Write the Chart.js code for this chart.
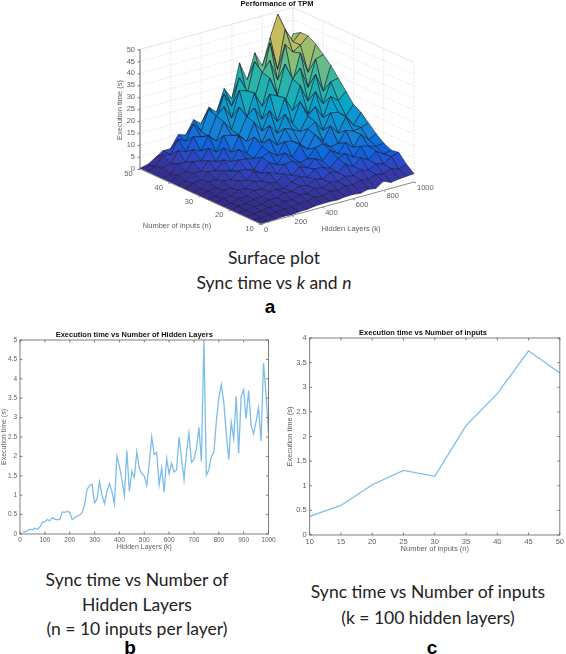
<!DOCTYPE html>
<html>
<head>
<meta charset="utf-8">
<title>Performance of TPM</title>
<script src="https://cdn.jsdelivr.net/npm/chart.js"></script>
<style>
    html, body { margin: 0; padding: 0; background: #fff; }
    #page { position: relative; width: 566px; height: 654px; overflow: hidden; }
    canvas { position: absolute; filter: blur(0.35px); }
    .cap { position: absolute; transform: translate(-50%, -50%); white-space: nowrap; color: #222;
           font-family: Lato, sans-serif; font-size: 17.5px; line-height: 1; }
    .tag { position: absolute; transform: translate(-50%, -50%); color: #000;
           font-family: "Liberation Sans", sans-serif; font-weight: bold; font-size: 19px; line-height: 1; }
</style>
</head>
<body>
<div id="page">
    <canvas id="surface" width="380" height="240" style="left:80px;top:0"></canvas>
    <canvas id="layers" width="280" height="235" style="left:0;top:325px"></canvas>
    <canvas id="inputs" width="281" height="235" style="left:285px;top:325px"></canvas>

    <div class="cap" style="left:274px;top:258px">Surface plot</div>
    <div class="cap" style="left:274px;top:283px">Sync time vs <i>k</i> and <i>n</i></div>
    <div class="tag" style="left:270px;top:306px">a</div>

    <div class="cap" style="left:137px;top:580px">Sync time vs Number of</div>
    <div class="cap" style="left:137px;top:605px">Hidden Layers</div>
    <div class="cap" style="left:137px;top:629px">(n = 10 inputs per layer)</div>
    <div class="tag" style="left:130px;top:647px">b</div>

    <div class="cap" style="left:428px;top:592px">Sync time vs Number of inputs</div>
    <div class="cap" style="left:428px;top:618px">(k = 100 hidden layers)</div>
    <div class="tag" style="left:432px;top:647px">c</div>
</div>

<script>
// Data
const hiddenLayerGrid = [0, 50, 100, 150, 200, 250, 300, 350, 400, 450, 500, 550, 600, 650, 700, 750, 800, 850, 900, 950, 1000];
const inputGrid = [10, 12.5, 15, 17.5, 20, 22.5, 25, 27.5, 30, 32.5, 35, 37.5, 40, 42.5, 45, 47.5, 50];

// one row per entry of inputGrid, one column per entry of hiddenLayerGrid
const surfaceTimes = [
    [.05, .1, .3, .57, .37, .75, .8, 1.3, 1.4, 1.5, 1.25, 1.7, 1.82, 1.4, 2.2, 1.65, 3.85, 2.45, 2.97, 3.25, 3.5],
    [.05, .2, .7, .8, 1.3, 1.2, 2, 1.9, 2.7, 2.3, 3.4, 2.9, 3.9, 3.5, 4.6, 4.1, 5.2, 4.6, 5.9, 4.8, 6],
    [.05, .4, .7, 1.3, 1.4, 2.2, 2.1, 3.2, 2.8, 4, 3.4, 4.8, 4.3, 5.6, 5, 6.6, 5.6, 7.4, 6.4, 8.6, 9.5],
    [.06, .4, 1.1, 1.3, 2.2, 2.2, 3.4, 3, 4.6, 3.9, 5.8, 4.8, 6.8, 5.8, 8.4, 6.6, 9.4, 7.6, 10.4, 8.2, 9],
    [.08, .7, 1, 2, 2.1, 3.4, 3.4, 3, 4.8, 6.2, 4.9, 7.6, 7.4, 6.2, 9.4, 10.4, 8.2, 11.8, 11, 10, 10.5],
    [.1, .6, 1.6, 1.8, 3.2, 3, 4.8, 4, 6.6, 5.2, 8, 6.6, 9.6, 7.8, 11.4, 9, 12.8, 10, 14.4, 11.4, 13],
    [.1, 1, 1.3, 2.9, 2.7, 4.8, 3.9, 6.6, 5.4, 8.4, 8.8, 7.4, 8, 11.8, 12.6, 10.4, 11, 15.6, 14.4, 15, 16],
    [.1, .7, 2.2, 2.3, 4.4, 3.8, 6.6, 5, 8.6, 6.8, 10.8, 8.2, 12.6, 9.8, 15, 11.4, 16.8, 13, 18.8, 14.6, 19],
    [.15, 1.3, 1.7, 3.8, 3.4, 6.4, 6, 5, 9.4, 10.8, 8.2, 13.2, 12.6, 10.6, 16, 18, 13.6, 20, 19.4, 17, 21],
    [.15, .9, 3, 2.9, 5.8, 4.8, 8.6, 8.2, 7.4, 11.6, 13.8, 10.4, 16.4, 15.2, 13.4, 19, 22, 16.6, 24.6, 22, 25],
    [.2, 1.7, 2.2, 4.8, 4.4, 8, 6.4, 10.6, 8.2, 14, 10.6, 17, 13, 20, 15.4, 23.6, 17.6, 26, 20, 28.4, 29],
    [.2, 1.2, 3.8, 3.6, 7.2, 5.8, 10.6, 8, 14, 10.8, 17.8, 13.4, 21, 15.6, 24.6, 18.4, 28, 20.6, 31, 23, 33],
    [.2, 2.2, 2.8, 6.2, 5.6, 10, 7.6, 13.6, 12.8, 12, 19, 21.6, 16, 25.6, 24, 20.5, 29.4, 33, 24, 35, 36],
    [.2, 1.4, 4.8, 4.4, 8.8, 7.4, 13, 9.8, 17, 12.8, 21.4, 16, 25.6, 19, 30, 22, 34, 26, 37, 28, 39],
    [.3, 2.6, 3.2, 7.8, 6.6, 12, 11, 10.4, 18, 21, 15.4, 26, 25, 21, 31, 35, 26, 40, 36, 38, 41],
    [.3, 1.6, 5.6, 4.8, 10.4, 8.6, 15, 11, 19.4, 14.6, 24, 18, 29, 21, 34, 25, 40, 28, 44, 38, 41],
    [.3, 1, 3, 5, 5, 10, 9, 14.5, 12, 18, 15, 24, 19, 33, 25, 35.5, 29, 40, 49, 30, 39]
];

const layerCounts = [10, 20, 30, 40, 50, 60, 70, 80, 90, 100, 110, 120, 130, 140, 150, 160, 170, 180, 190, 200,
    210, 220, 230, 240, 250, 260, 270, 280, 290, 300, 310, 320, 330, 340, 350, 360, 370, 380, 390, 400,
    410, 420, 430, 440, 450, 460, 470, 480, 490, 500, 510, 520, 530, 540, 550, 560, 570, 580, 590, 600,
    610, 620, 630, 640, 650, 660, 670, 680, 690, 700, 710, 720, 730, 740, 750, 760, 770, 780, 790, 800,
    810, 820, 830, 840, 850, 860, 870, 880, 890, 900, 910, 920, 930, 940, 950, 960, 970, 980, 990, 1000];
const layerTimes = [.06, .05, .09, .12, .11, .15, .12, .18, .3, .31, .37, .34, .42, .38, .37, .37, .57, .56, .58, .56,
    .37, .42, .46, .49, .55, .75, 1.15, 1.25, 1.28, .8, .9, 1.35, 1, .78, 1.1, 1.3, 1.1, .78, 2, 1.75,
    1.4, .98, 2.15, 1.1, 1.62, 1.45, 2.12, 1.7, 1.55, 1.5, 1.25, 1.8, 2.5, 2.05, 2.1, 1.27, 1.7, 1.08, 1.95, 1.55,
    1.82, 1.6, 1.65, 2.5, 1.95, 1.4, 2.1, 2.6, 1.85, 1.92, 2.2, 2.75, 1.87, 5, 1.52, 1.65, 2, 2.1, 2.9, 3.5,
    3.85, 3.4, 2.6, 1.92, 2.88, 2.45, 3.55, 2.08, 3.55, 3.72, 2.97, 3.7, 2.8, 2.58, 2.9, 3.25, 2.4, 4.4, 3.6, 2.6];

const inputCounts = [10, 15, 20, 25, 30, 35, 40, 45, 50];
const inputTimes = [.38, .6, 1.02, 1.31, 1.19, 2.22, 2.87, 3.74, 3.29];

const hiddenTicks = [0, 200, 400, 600, 800, 1000];
const inputTicks = [10, 20, 30, 40, 50];
const timeTicks = [0, 5, 10, 15, 20, 25, 30, 35, 40, 45, 50];

Chart.defaults.font.family = '"Liberation Sans", Arial, sans-serif';
Chart.defaults.animation = false;
Chart.defaults.responsive = false;
Chart.defaults.events = [];

const AXIS_GRAY = '#606060';
const LINE_BLUE = '#7dbde9';

// parula colour map as the picture shows it: position, then r, g, b
const parula = [[0, 53, 42, 135], [.07, 55, 55, 165], [.12, 45, 70, 200], [.18, 15, 100, 225], [.25, 20, 129, 214],
    [.375, 6, 164, 202], [.5, 46, 183, 164], [.625, 135, 191, 119], [.75, 209, 187, 89], [.875, 254, 200, 50], [1, 249, 251, 14]];
function parulaColor(t) {
    const v = Math.min(Math.max(t, 0), 1);
    let i = 0;
    while (i < parula.length - 2 && v > parula[i + 1][0]) i++;
    const a = parula[i], b = parula[i + 1];
    const f = (v - a[0]) / (b[0] - a[0]);
    const mix = j => Math.round(a[j] + (b[j] - a[j]) * f);
    return `rgb(${mix(1)},${mix(2)},${mix(3)})`;
}

// the 3D box drawn on flat, hidden scales
function project(k, n, z) {
    const a = k / 1000, b = (n - 10) / 40;
    return { x: 181 + a * 153 - b * 121, y: 224 - a * 42 - b * 55 - z * 2.39 };
}

function segment(p, q, color, width, dash) {
    return { data: [p, q], borderColor: color, borderWidth: width, borderDash: dash || [], pointRadius: 0, fill: false, clip: false };
}

const surfaceSets = [];

// 1. axis lines and tick marks, above the surface
surfaceSets.push(segment(project(0, 10, 0), project(1000, 10, 0), '#8a8a8a', 1));
surfaceSets.push(segment(project(0, 10, 0), project(0, 50, 0), '#8a8a8a', 1));
surfaceSets.push(segment(project(0, 50, 0), project(0, 50, 50), AXIS_GRAY, 0.9));
timeTicks.forEach(z => {
    const p = project(0, 50, z);
    surfaceSets.push(segment(p, { x: p.x - 2.5, y: p.y + 0.7 }, AXIS_GRAY, 0.8));
});
hiddenTicks.forEach(k => {
    const p = project(k, 10, 0);
    surfaceSets.push(segment(p, { x: p.x + 2, y: p.y + 1 }, AXIS_GRAY, 0.8));
});
inputTicks.forEach(n => {
    const p = project(0, n, 0);
    surfaceSets.push(segment(p, { x: p.x - 2, y: p.y + 0.6 }, AXIS_GRAY, 0.8));
});

// 2. surface, nearest quad first because the first dataset is painted last
for (let r = 0; r < inputGrid.length - 1; r++) {
    for (let c = 0; c < hiddenLayerGrid.length - 1; c++) {
        const corners = [[r, c], [r, c + 1], [r + 1, c + 1], [r + 1, c]];
        const pts = corners.map(([i, j]) => project(hiddenLayerGrid[j], inputGrid[i], surfaceTimes[i][j]));
        const mean = corners.reduce((s, [i, j]) => s + surfaceTimes[i][j], 0) / 4;
        surfaceSets.push({
            data: [...pts, pts[0]],
            backgroundColor: parulaColor(mean / 55),
            borderColor: 'rgba(15,25,45,0.85)',
            borderWidth: 0.7,
            tension: 0.001,
            pointRadius: 0,
            fill: 'shape',
            clip: false
        });
    }
}

// 3. grid on the walls and the floor, behind everything
const GRID_GRAY = '#d8d8d8';
const GRID_DASH = [1.5, 1.5];
timeTicks.forEach(z => {
    surfaceSets.push(segment(project(0, 50, z), project(1000, 50, z), GRID_GRAY, 0.7, z === 50 ? [] : GRID_DASH));
    surfaceSets.push(segment(project(1000, 50, z), project(1000, 10, z), GRID_GRAY, 0.7, z === 50 ? [] : GRID_DASH));
});
hiddenTicks.forEach(k => {
    surfaceSets.push(segment(project(k, 50, 0), project(k, 50, 50), GRID_GRAY, 0.7, GRID_DASH));
});
inputTicks.forEach(n => {
    surfaceSets.push(segment(project(1000, n, 0), project(1000, n, 50), GRID_GRAY, 0.7, GRID_DASH));
});

// text of the 3D axes, there are no oblique axes in Chart.js
const surfaceLabels = {
    id: 'surfaceLabels',
    afterDraw(chart) {
        const { ctx, scales: { x, y } } = chart;
        const put = (text, p, dx, dy, align) => {
            ctx.textAlign = align;
            ctx.fillText(text, x.getPixelForValue(p.x) + dx, y.getPixelForValue(p.y) + dy);
        };
        ctx.save();
        ctx.textBaseline = 'middle';
        ctx.fillStyle = AXIS_GRAY;
        ctx.font = '7.5px "Liberation Sans"';
        timeTicks.forEach(z => put(String(z), project(0, 50, z), -5, 0, 'right'));
        inputTicks.forEach(n => put(String(n), project(0, n, 0), -11.5, 5, 'center'));
        hiddenTicks.forEach(k => put(String(k), project(k, 10, 0), 3, 6, 'left'));
        ctx.font = '7.5px "Liberation Sans"';
        ctx.textAlign = 'center';
        ctx.fillText('Number of inputs (n)', 97, 226);
        ctx.fillText('Hidden Layers (k)', 271, 229);
        ctx.save();
        ctx.translate(40, 110);
        ctx.rotate(-Math.PI / 2);
        ctx.fillText('Execution time (s)', 0, 0);
        ctx.restore();
        ctx.fillStyle = '#111';
        ctx.font = 'bold 7.5px "Liberation Sans"';
        ctx.fillText('Performance of TPM', 197, 3.5);
        ctx.restore();
    }
};

new Chart(document.getElementById('surface'), {
    type: 'line',
    data: { datasets: surfaceSets },
    options: {
        layout: { padding: 0 },
        plugins: { legend: { display: false }, tooltip: { enabled: false } },
        scales: {
            x: { type: 'linear', display: false, min: 0, max: 380 },
            y: { type: 'linear', display: false, min: 0, max: 240, reverse: true }
        }
    },
    plugins: [surfaceLabels]
});

// box and inward ticks of the 2D plots, the way MATLAB draws them
const boxTicks = {
    id: 'boxTicks',
    afterDraw(chart) {
        const { ctx, chartArea: a, scales: { x, y } } = chart;
        ctx.save();
        ctx.strokeStyle = AXIS_GRAY;
        ctx.lineWidth = 0.8;
        ctx.strokeRect(a.left, a.top, a.right - a.left, a.bottom - a.top);
        ctx.beginPath();
        x.ticks.forEach(t => {
            const px = x.getPixelForValue(t.value);
            ctx.moveTo(px, a.bottom); ctx.lineTo(px, a.bottom - 2.5);
            ctx.moveTo(px, a.top); ctx.lineTo(px, a.top + 2.5);
        });
        y.ticks.forEach(t => {
            const py = y.getPixelForValue(t.value);
            ctx.moveTo(a.left, py); ctx.lineTo(a.left + 2.5, py);
            ctx.moveTo(a.right, py); ctx.lineTo(a.right - 2.5, py);
        });
        ctx.stroke();
        ctx.restore();
    }
};

function linePlot(id, cfg) {
    new Chart(document.getElementById(id), {
        type: 'line',
        data: {
            datasets: [{
                data: cfg.xs.map((x, i) => ({ x: x, y: cfg.ys[i] })),
                borderColor: LINE_BLUE,
                borderWidth: 1.3,
                pointRadius: 0,
                fill: false
            }]
        },
        options: {
            layout: { padding: cfg.padding },
            plugins: {
                legend: { display: false },
                tooltip: { enabled: false },
                title: {
                    display: true,
                    text: cfg.title,
                    color: '#111',
                    font: { size: 7.5, weight: 'bold' },
                    padding: { top: cfg.titleTop, bottom: cfg.titleBottom }
                }
            },
            scales: {
                x: {
                    type: 'linear',
                    min: cfg.xMin,
                    max: cfg.xMax,
                    afterFit: s => { s.height = cfg.xHeight; },
                    grid: { display: false, drawTicks: false },
                    border: { display: false },
                    ticks: { stepSize: cfg.xStep, color: AXIS_GRAY, font: { size: cfg.tickSize }, padding: 2, maxRotation: 0, autoSkip: false, callback: v => String(v) },
                    title: { display: true, text: cfg.xTitle, color: AXIS_GRAY, font: { size: cfg.titleSize }, padding: 0 }
                },
                y: {
                    min: 0,
                    max: cfg.yMax,
                    afterFit: s => { s.width = cfg.yWidth; },
                    grid: { display: false, drawTicks: false },
                    border: { display: false },
                    ticks: { stepSize: 0.5, color: AXIS_GRAY, font: { size: cfg.tickSize }, padding: 3, autoSkip: false, callback: v => String(v) },
                    title: { display: true, text: 'Execution time (s)', color: AXIS_GRAY, font: { size: cfg.titleSize }, padding: 0 }
                }
            }
        },
        plugins: [boxTicks]
    });
}

linePlot('layers', {
    xs: layerCounts, ys: layerTimes,
    title: 'Execution time vs Number of Hidden Layers',
    xTitle: 'Hidden Layers (k)',
    xMin: 0, xMax: 1000, xStep: 100, yMax: 5,
    tickSize: 6.5, titleSize: 7,
    xHeight: 17, yWidth: 20,
    padding: { left: 0, right: 11.5, top: 0, bottom: 9 },
    titleTop: 5, titleBottom: 1
});

linePlot('inputs', {
    xs: inputCounts, ys: inputTimes,
    title: 'Execution time vs Number of inputs',
    xTitle: 'Number of inputs (n)',
    xMin: 10, xMax: 50, xStep: 5, yMax: 4,
    tickSize: 7.5, titleSize: 7.5,
    xHeight: 18, yWidth: 24.7,
    padding: { left: 0, right: 5, top: 0, bottom: 7 },
    titleTop: 3, titleBottom: 1
});
</script>
</body>
</html>
